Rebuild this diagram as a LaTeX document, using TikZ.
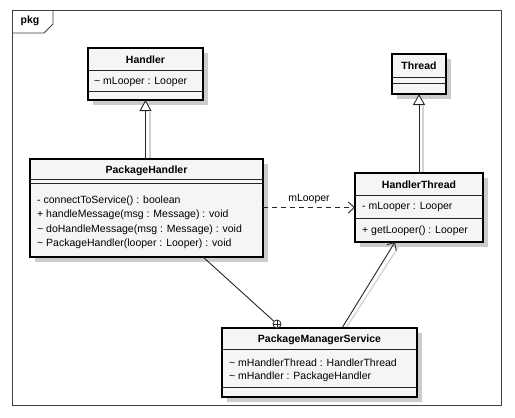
\documentclass[tikz,border=0pt]{standalone}
\usepackage{fontspec}
\setmainfont{Liberation Sans}
\usetikzlibrary{arrows.meta,calc}
\begin{document}
\begin{tikzpicture}[x=1pt,y=-1pt,
  umlbox/.style={draw=black, line width=1.8pt, fill=black!4, inner sep=0pt, outer sep=0pt, anchor=north west},
  shd/.style={fill=black!20},
  sep/.style={draw=black!85, line width=0.8pt},
  txt/.style={inner sep=0pt, anchor=west, font=\fontsize{10.5}{12}\selectfont},
  ttl/.style={inner sep=0pt, font=\fontsize{10.5}{12}\selectfont\bfseries},
  conn/.style={draw=black!85, line width=0.9pt},
  cshd/.style={draw=black!18, line width=1.2pt},
  gen/.style={conn, -{Triangle[open, length=11pt, width=12pt, fill=white]}},
  nav/.style={conn, -{Straight Barb[length=6pt, width=11pt]}},
  frame/.style={draw=black!75, line width=0.9pt}
]
\useasboundingbox (0,0) rectangle (515,418);
\fill[white] (0,0) rectangle (515,418);
% frame
\draw[frame] (12,10) rectangle (501,405);
\draw[frame] (12,33) -- (44,33) -- (53,24) -- (53,10);
\node[ttl] (pkg) at (30,21) {pkg};

% shadows
\fill[shd] (93,53) rectangle (208,105);
\fill[shd] (35,164) rectangle (268,262);
\fill[shd] (397,59) rectangle (451,99);
\fill[shd] (360,178) rectangle (488,247);
\fill[shd] (227,333) rectangle (422,402);

% connector shadows
\draw[cshd] (150,112) -- (150,159);
\draw[cshd] (423,106) -- (423,173);
\draw[cshd] (346,328) -- (399,246);

% Handler
\node[umlbox, minimum width=115pt, minimum height=52pt] (h) at (88,48) {};
\draw[sep] (88,70) -- (203,70);
\draw[sep] (88,91) -- (203,91);
\node[ttl] (hn) at (145.5,60) {Handler};
\node[txt] (h1) at (94,82) {\textasciitilde{} mLooper : Looper};

% PackageHandler
\node[umlbox, minimum width=233pt, minimum height=98pt] (ph) at (30,159) {};
\draw[sep] (30,179) -- (263,179);
\draw[sep] (30,183) -- (263,183);
\node[ttl] (phn) at (146.5,171) {PackageHandler};
\node[txt] (ph1) at (37,201) {- connectToService() : boolean};
\node[txt] (ph2) at (37,215) {+ handleMessage(msg : Message) : void};
\node[txt] (ph3) at (37,230) {\textasciitilde{} doHandleMessage(msg : Message) : void};
\node[txt] (ph4) at (37,244) {\textasciitilde{} PackageHandler(looper : Looper) : void};

% Thread
\node[umlbox, minimum width=54pt, minimum height=40pt] (t) at (392,54) {};
\draw[sep] (392,77) -- (446,77);
\draw[sep] (392,83) -- (446,83);
\node[ttl] (tn) at (419,66) {Thread};

% HandlerThread
\node[umlbox, minimum width=128pt, minimum height=69pt] (ht) at (355,173) {};
\draw[sep] (355,195) -- (483,195);
\draw[sep] (355,218) -- (483,218);
\node[ttl] (htn) at (419,185) {HandlerThread};
\node[txt] (ht1) at (362,207) {- mLooper : Looper};
\node[txt] (ht2) at (362,231) {+ getLooper() : Looper};

% PackageManagerService
\node[umlbox, minimum width=195pt, minimum height=69pt] (pms) at (222,328) {};
\draw[sep] (222,349) -- (417,349);
\draw[sep] (222,387) -- (417,387);
\node[ttl] (pmsn) at (319.5,340) {PackageManagerService};
\node[txt] (pms1) at (229,363) {\textasciitilde{} mHandlerThread : HandlerThread};
\node[txt] (pms2) at (229,377) {\textasciitilde{} mHandler : PackageHandler};

% connectors
\draw[gen] (ph.north -| h.south) -- (h.south);
\draw[gen] (ht.north) -- (t.south);
\draw[nav, dashed, dash pattern=on 5pt off 4pt] (ph.east |- ht.west) -- node[midway, above=3pt, txt, anchor=south] (ml) {mLooper} (ht.west);

\coordinate (phb) at (203,257);
\node[circle, draw=black!85, line width=0.8pt, fill=white, minimum size=8pt, inner sep=0pt] (nest) at (277,324) {};
\draw[conn] (nest.north) -- (nest.south) (nest.west) -- (nest.east);
\draw[conn] (phb) -- (nest);

\coordinate (pmst) at (342,328);
\coordinate (htb) at (395,242);
\draw[nav] (pmst) -- (htb);
\end{tikzpicture}
\end{document}
